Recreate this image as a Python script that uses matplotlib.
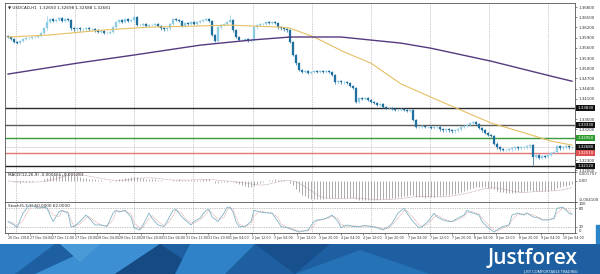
import numpy as np
import pandas as pd
import matplotlib
matplotlib.use("Agg")
import matplotlib.pyplot as plt
from matplotlib.patches import Rectangle, Polygon

# USDCAD H1 closes, one value per candle
closes = [
    1.3592, 1.3586, 1.3577, 1.3574, 1.3580, 1.3586, 1.3589, 1.3589, 1.3592, 1.3592, 1.3595,
    1.3604, 1.3618, 1.3636, 1.3645, 1.3639,
    1.3642, 1.3648, 1.3639, 1.3645, 1.3642,
    1.3618, 1.3615, 1.3618, 1.3615, 1.3615, 1.3618, 1.3615, 1.3615, 1.3612,
    1.3607, 1.3609, 1.3604, 1.3604, 1.3607,
    1.3621, 1.3636,
    1.3642, 1.3636, 1.3645, 1.3639, 1.3642,
    1.3651, 1.3627,
    1.3627, 1.3630, 1.3624, 1.3627, 1.3627, 1.3630, 1.3624,
    1.3618, 1.3615, 1.3618,
    1.3630, 1.3645, 1.3642,
    1.3639, 1.3624, 1.3633, 1.3630, 1.3636, 1.3630,
    1.3636, 1.3639, 1.3642, 1.3645, 1.3639,
    1.3598, 1.3580,
    1.3621, 1.3627, 1.3630, 1.3636, 1.3642,
    1.3612, 1.3592, 1.3583,
    1.3583, 1.3586, 1.3580, 1.3583,
    1.3621, 1.3627,
    1.3630, 1.3630, 1.3636, 1.3633, 1.3636, 1.3633,
    1.3621, 1.3618, 1.3615, 1.3612,
    1.3577, 1.3539, 1.3515, 1.3495,
    1.3489, 1.3492, 1.3486, 1.3489, 1.3492, 1.3489, 1.3492, 1.3489, 1.3492, 1.3489,
    1.3480, 1.3459, 1.3462, 1.3459, 1.3459, 1.3457, 1.3448,
    1.3442, 1.3401,
    1.3412, 1.3410, 1.3412, 1.3407, 1.3401, 1.3398, 1.3392, 1.3395,
    1.3386, 1.3383, 1.3383, 1.3380, 1.3377, 1.3377, 1.3380, 1.3377, 1.3374, 1.3377,
    1.3348, 1.3327,
    1.3327, 1.3330, 1.3327, 1.3327, 1.3324, 1.3327, 1.3327,
    1.3321, 1.3318, 1.3321, 1.3318, 1.3315, 1.3318, 1.3321,
    1.3327, 1.3330, 1.3333, 1.3339, 1.3342,
    1.3336, 1.3324, 1.3318,
    1.3310, 1.3304, 1.3301,
    1.3278, 1.3268, 1.3262,
    1.3260, 1.3260, 1.3262, 1.3265, 1.3268, 1.3265, 1.3268,
    1.3268, 1.3271, 1.3274,
    1.3239, 1.3245,
    1.3236, 1.3242, 1.3239, 1.3245,
    1.3251, 1.3254,
    1.3271, 1.3265, 1.3268,
    1.3271, 1.3268, 1.3268,
]
# a few long wicks
spike_high = {13: 1.3654, 42: 1.3658, 74: 1.3656}
spike_low = {175: 1.3215, 116: 1.3398}

# moving averages (candle index, value)
ma_fast_idx = [0, 14, 31, 47, 62, 74, 91, 94, 102, 112, 121, 131, 141, 151, 161, 171, 181, 188]
ma_fast = [1.3592, 1.3598, 1.3612, 1.3621, 1.3624, 1.3627, 1.3621, 1.3618, 1.3592, 1.3548,
           1.3515, 1.3454, 1.3415, 1.3377, 1.3339, 1.3313, 1.3286, 1.3274]
ma_slow_idx = [0, 23, 42, 64, 81, 94, 111, 121, 131, 141, 161, 181, 188]
ma_slow = [1.3483, 1.3515, 1.3539, 1.3568, 1.3583, 1.3592, 1.3592, 1.3583, 1.3574, 1.3559,
           1.3521, 1.3477, 1.3462]

# horizontal levels
levels = [1.3383, 1.3333, 1.3295, 1.3251, 1.3212]
level_colors = ["#2b2b2b", "#5a5a5a", "#3c9a3c", "#e27a7a", "#222222"]
box_colors = ["#111111", "#111111", "#2e9a2e", "#e05050", "#111111"]

# stochastic %K (candle index, value)
stoch_idx = [0, 2, 3, 5, 7, 8, 10, 12, 13, 15, 17, 18, 20, 21, 22, 24, 26, 27, 29, 31,
             33, 35, 36, 37, 39, 41, 42, 44, 45, 47, 48, 50, 52, 53, 55, 56, 58, 59, 61, 62,
             64, 66, 67, 68, 70, 72, 73, 74, 75, 76, 77, 79, 81, 82, 84, 86, 88, 90, 91, 93,
             95, 97,
             100, 102, 103, 105, 107, 108, 110, 111, 113, 115, 117, 119, 121, 123, 125, 127,
             128, 130, 132, 133, 135, 137, 138, 140, 142, 143, 145, 147, 148, 150, 152, 153,
             155, 157, 158, 160, 162, 163, 165, 167, 168, 170, 172, 173, 175, 177, 178, 180,
             182, 183, 185, 187, 188]
stoch_k = [37, 26, 17, 64, 89, 89, 80, 83, 80, 37, 68, 73, 64, 21, 21, 37, 58, 48, 26, 26,
           21, 64, 73, 68, 73, 52, 17, 10, 26, 64, 48, 26, 21, 37, 73, 76, 52, 42, 26, 37,
           48, 73, 76, 52, 37, 64, 83, 83, 68, 37, 21, 21, 37, 73, 68, 65, 64, 37, 21, 17,
           10, 3,
           10, 37, 42, 44, 52, 58, 37, 17, 26, 21, 21, 24, 21, 17, 10, 21,
           31, 64, 80, 64, 37, 17, 21, 37, 64, 52, 42, 37, 37, 48, 58, 73,
           64, 58, 37, 17, 3, 10, 21, 26, 58, 64, 58, 65, 52, 48, 42, 42,
           48, 80, 83, 64, 60]

date_labels = ["26 Dec 2018", "27 Dec 04:00", "27 Dec 12:00", "27 Dec 20:00", "28 Dec 04:00",
               "28 Dec 12:00", "28 Dec 20:00", "31 Dec 04:00", "31 Dec 12:00", "31 Dec 20:00",
               "1 Jan 04:00", "2 Jan 12:00", "3 Jan 04:00", "3 Jan 12:00", "3 Jan 20:00",
               "4 Jan 04:00", "4 Jan 12:00", "4 Jan 20:00", "7 Jan 04:00", "7 Jan 12:00",
               "7 Jan 20:00", "8 Jan 04:00", "8 Jan 12:00", "8 Jan 20:00", "9 Jan 04:00",
               "10 Jan 04:00"]

n = len(closes)
x = np.arange(n)
c = np.array(closes)
o = np.r_[c[0] + 0.0003, c[:-1]]
hi = np.maximum(o, c) + 0.0004
lo = np.minimum(o, c) - 0.0004
for k, v in spike_high.items():
    hi[k] = v
for k, v in spike_low.items():
    lo[k] = v

s = pd.Series(closes)
macd = s.ewm(span=12, adjust=False).mean() - s.ewm(span=26, adjust=False).mean()
macd_sig = macd.rolling(9, min_periods=1).mean()
stoch_d = pd.Series(stoch_k).rolling(2, min_periods=1).mean()

fig = plt.figure(figsize=(6, 2.74), dpi=100)
fig.patch.set_facecolor("white")


def px_axes(left, top, right, bottom):
    return fig.add_axes([left / 600, 1 - bottom / 274, (right - left) / 600, (bottom - top) / 274])


ax = px_axes(5, 3, 575, 172)
ax_m = px_axes(5, 172, 575, 202)
ax_s = px_axes(5, 202, 575, 233)

grid_x = np.arange(2.7, 189, 19.7)
for a in (ax, ax_m, ax_s):
    a.set_xlim(-1, 189)
    for sp in a.spines.values():
        sp.set_color("#555555")
        sp.set_linewidth(0.6)
    a.yaxis.tick_right()
    a.tick_params(axis="y", labelsize=2.9, length=1.5, width=0.4, pad=1, colors="#333333")
    for gx in grid_x:
        a.axvline(gx, color="#9a9a9a", lw=0.5, ls=(0, (1, 1.5)), zorder=0)
ax.set_xticks([])
ax_m.set_xticks([])

# candles
up = c >= o
bull_col, bear_col = "#8ccbe3", "#1f6f9f"
cols = np.where(up, bull_col, bear_col)
ax.vlines(x, lo, hi, colors=cols, lw=0.5, zorder=3)
ax.bar(x, np.maximum(np.abs(c - o), 0.00008), bottom=np.minimum(o, c), width=0.7,
       color=cols, edgecolor=cols, linewidth=0.2, zorder=4)

ax.plot(ma_fast_idx, ma_fast, color="#e6bf62", lw=0.8, zorder=5)
ax.plot(ma_slow_idx, ma_slow, color="#56397f", lw=1.0, zorder=5)

ax.set_ylim(1.3195, 1.3692)
yt = np.arange(1.3200, 1.36801, 0.0030)
ax.set_yticks(yt)
# price labels sitting under a level box are not shown
boxed = levels + [closes[-1]]
ax.set_yticklabels(["" if min(abs(v - b) for b in boxed) < 0.0010 else f"{v:.5f}" for v in yt])

tr = ax.get_yaxis_transform()
for lv, lc, bc in zip(levels, level_colors, box_colors):
    ax.axhline(lv, color=lc, lw=1.0, zorder=2)
    ax.text(1.004, lv, f"{lv:.5f}", transform=tr, fontsize=2.9, color="white", va="center",
            ha="left", zorder=10, clip_on=False,
            bbox=dict(boxstyle="square,pad=0.25", fc=bc, ec="none"))
ax.axhline(closes[-1], color="#e2d6d6", lw=0.6, zorder=1)
ax.text(1.004, closes[-1], f"{closes[-1]:.5f}", transform=tr, fontsize=2.9, color="white",
        va="center", ha="left", zorder=10, clip_on=False,
        bbox=dict(boxstyle="square,pad=0.25", fc="#111111", ec="none"))
ax.text(0.006, 0.985, "\u25bc USDCAD,H1  1.32650 1.32698 1.32588 1.32681", transform=ax.transAxes,
        fontsize=3, va="top", color="#222222")

# MACD panel
ax_m.vlines(x, 0, macd, colors="#8c8c8c", lw=0.5, zorder=3)
ax_m.plot(x, macd_sig, color="#b08c8c", lw=0.5, ls=(0, (1, 1)), zorder=4)
mlo = macd.min() * 1.1
mhi = -mlo * 9 / 21
ax_m.set_ylim(mlo, mhi)
ax_m.set_yticks([mlo, 0, mhi])
ax_m.set_yticklabels([f"{mlo:.6f}", "0.00", f"{mhi:.6f}"])
mlabels = ax_m.get_yticklabels()
mlabels[0].set_va("bottom")
mlabels[2].set_va("top")
ax_m.text(0.006, 0.95, f"MACD(12,26,9) {macd.iloc[-1]:.6f} {macd_sig.iloc[-1]:.6f}",
          transform=ax_m.transAxes, fontsize=3, va="top", color="#222222")

# Stochastic panel
ax_s.plot(stoch_idx, stoch_k, color="#7fb2c4", lw=0.6, zorder=4)
ax_s.plot(stoch_idx, stoch_d, color="#dc9a9a", lw=0.5, ls=(0, (1.5, 1)), zorder=3)
for lv in (20, 80):
    ax_s.axhline(lv, color="#8a8a8a", lw=0.5, ls=(0, (1, 1.5)), zorder=1)
ax_s.set_ylim(0, 100)
ax_s.set_yticks([0, 20, 80, 100])
slabels = ax_s.get_yticklabels()
slabels[0].set_va("bottom")
slabels[3].set_va("top")
ax_s.text(0.006, 0.95, f"Stoch(5,3,3) {stoch_k[-1]:.4f} {stoch_d.iloc[-1]:.4f}",
          transform=ax_s.transAxes, fontsize=3, va="top", color="#222222")
ax_s.set_xticks(np.linspace(0, 185, len(date_labels)))
ax_s.set_xticklabels(date_labels, ha="left")
ax_s.tick_params(axis="x", labelsize=2.35, length=1.5, width=0.4, pad=1, colors="#333333")

# bottom banner
ax_b = fig.add_axes([0, 0, 1, 30 / 274])
ax_b.set_xlim(0, 600)
ax_b.set_ylim(274, 244)
ax_b.axis("off")
ax_b.add_patch(Rectangle((0, 244), 600, 30, color="#1d5fa0"))
shapes = [
    ([(0, 244), (55, 244), (15, 274), (0, 274)], "#2c7bc2"),
    ([(35, 274), (100, 244), (160, 244), (115, 274)], "#3d8fd3"),
    ([(115, 274), (160, 244), (205, 274)], "#154a82"),
    ([(190, 244), (255, 244), (225, 274), (175, 274)], "#2f82c8"),
    ([(255, 244), (330, 244), (295, 274)], "#18508e"),
    ([(295, 274), (360, 250), (430, 274)], "#2672b7"),
    ([(60, 244), (100, 244), (80, 262)], "#4a9ad8"),
]
for pts, col in shapes:
    ax_b.add_patch(Polygon(pts, closed=True, color=col, lw=0))
ax_b.text(578, 264.5, "Justforex", ha="right", va="baseline", fontsize=15, color="white",
          family="Open Sans", weight="semibold")
ax_b.text(578, 272.5, "JUST COMFORTABLE TRADING", ha="right", va="baseline", fontsize=2.8,
          color="white", family="Open Sans")
fig.add_artist(Rectangle((596 / 600, 1 - 243 / 274), 4 / 600, 18 / 274, color="#2a86c8",
                         transform=fig.transFigure))

fig.savefig("out.png", dpi=100)
